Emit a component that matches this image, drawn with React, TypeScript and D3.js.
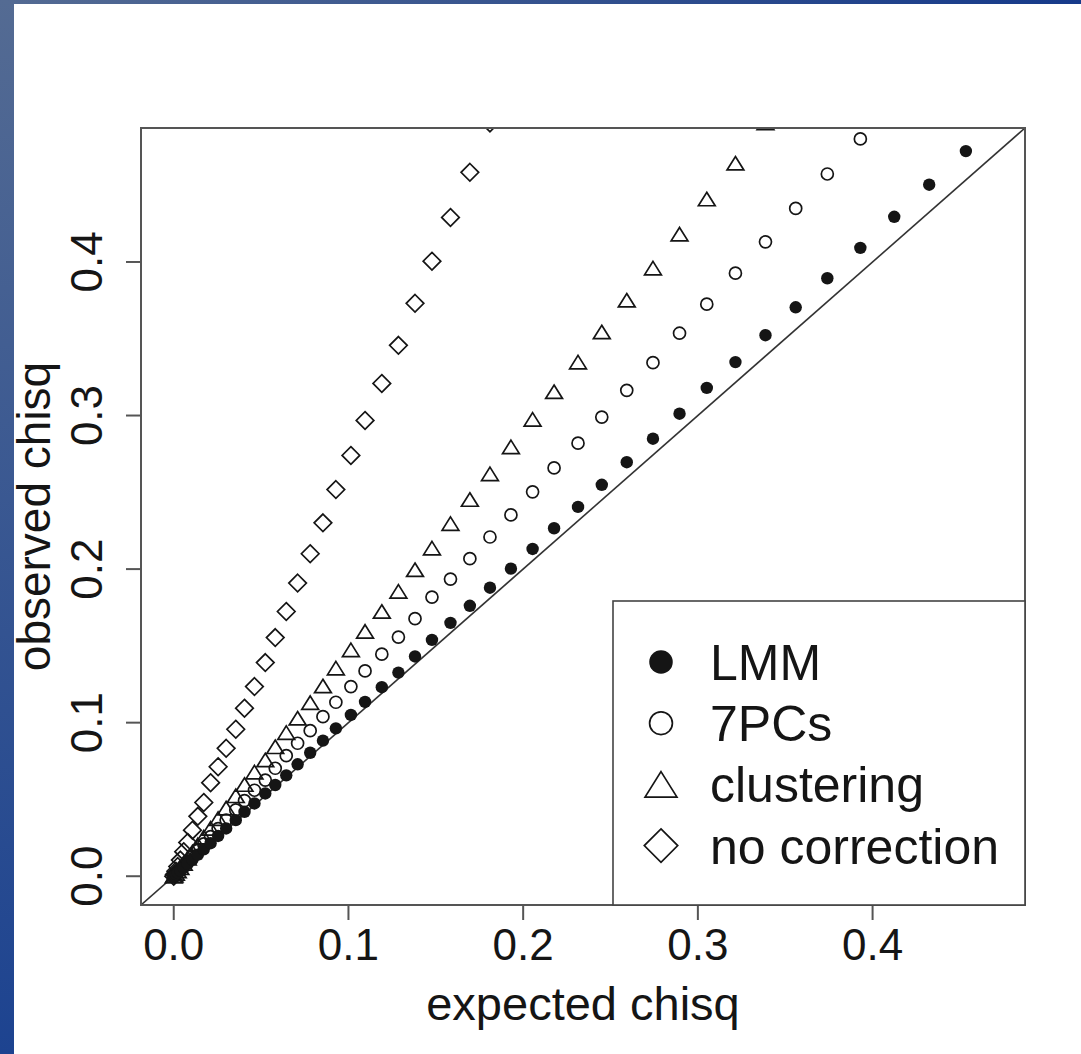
import React from "react";
import * as d3 from "d3";

// expected chisq quantiles (shared by all four series)
const expected = [
  0.0, 0.0004, 0.0012, 0.0023, 0.0038, 0.0057, 0.008, 0.0107, 0.0138, 0.0172,
  0.0211, 0.0254, 0.03, 0.0355, 0.0405, 0.0462, 0.0524, 0.0581, 0.0644, 0.0709,
  0.0781, 0.0854, 0.0928, 0.1014, 0.1095, 0.1191, 0.1286, 0.1381, 0.1478, 0.1584,
  0.1695, 0.181, 0.193, 0.2054, 0.2177, 0.2314, 0.245, 0.2593, 0.2743, 0.2895,
  0.3051, 0.3215, 0.3387, 0.356, 0.3741, 0.393, 0.4124, 0.4324, 0.4534,
];

const lmm = [
  0.0, 0.0006, 0.0013, 0.0023, 0.0036, 0.0055, 0.008, 0.0108, 0.014, 0.0175,
  0.0215, 0.0262, 0.0311, 0.0365, 0.0419, 0.0474, 0.0539, 0.0594, 0.0657, 0.0729,
  0.0804, 0.0883, 0.0963, 0.105, 0.1135, 0.1231, 0.1326, 0.1431, 0.1539, 0.165,
  0.1761, 0.1879, 0.2003, 0.2131, 0.2266, 0.2405, 0.2549, 0.2696, 0.2849, 0.3012,
  0.318, 0.3348, 0.3523, 0.3705, 0.3894, 0.4092, 0.4294, 0.4503, 0.4722,
];

const pcs7 = [
  0.0, 0.0005, 0.0015, 0.0028, 0.0046, 0.007, 0.0098, 0.0131, 0.0168, 0.021,
  0.0258, 0.031, 0.0366, 0.0432, 0.0492, 0.056, 0.0626, 0.0703, 0.0785, 0.0866,
  0.0948, 0.1039, 0.1133, 0.1235, 0.1337, 0.1446, 0.1557, 0.1677, 0.1818, 0.1935,
  0.2068, 0.2209, 0.2353, 0.2503, 0.2659, 0.282, 0.299, 0.3164, 0.3344, 0.3536,
  0.3725, 0.3927, 0.4131, 0.4349, 0.4573, 0.4801,
];

const clustering = [
  0.0, 0.0006, 0.0018, 0.0034, 0.0056, 0.0084, 0.0118, 0.0158, 0.0204, 0.0255,
  0.0312, 0.0375, 0.0443, 0.0524, 0.0597, 0.0678, 0.0757, 0.0843, 0.0935, 0.1029,
  0.113, 0.1239, 0.1355, 0.1474, 0.1594, 0.1724, 0.1855, 0.1996, 0.2137, 0.2296,
  0.2453, 0.262, 0.2796, 0.2975, 0.3155, 0.3348, 0.3544, 0.3751, 0.396, 0.4181,
  0.441, 0.4643, 0.4905,
];

const noCorrection = [
  0.0, 0.0011, 0.0033, 0.0063, 0.0105, 0.016, 0.022, 0.03, 0.039, 0.048,
  0.0609, 0.0713, 0.0833, 0.0957, 0.1094, 0.1235, 0.1391, 0.1554, 0.1724, 0.1909,
  0.21, 0.2301, 0.2518, 0.274, 0.2968, 0.3209, 0.3457, 0.3731, 0.4005, 0.429,
  0.4584, 0.4905,
];

const xTicks = [0, 0.1, 0.2, 0.3, 0.4];
const yTicks = [0, 0.1, 0.2, 0.3, 0.4];
const legendLabels = ["LMM", "7PCs", "clustering", "no correction"];

const W = 1081;
const H = 1054;
const plot = { left: 141, top: 128, right: 1025, bottom: 905 };
const lim = 0.4685;
const dom: [number, number] = [-0.04 * lim, 1.04 * lim];
const font = "'Liberation Sans', Arial, Helvetica, sans-serif";
const ink = "#151515";

const symbolPath = (kind: string, s: number) => {
  if (kind === "tri") {
    const h = s * 0.8;
    return `M0,${-h}L${s},${h}L${-s},${h}Z`;
  }
  if (kind === "dia") return `M0,${-s}L${s},0L0,${s}L${-s},0Z`;
  return "";
};

const Marker = ({ kind, cx, cy, big }: { kind: string; cx: number; cy: number; big?: boolean }) => {
  const k = big ? 1.9 : 1;
  if (kind === "dot") return <circle cx={cx} cy={cy} r={6.2 * k} fill={ink} />;
  if (kind === "circ")
    return <circle cx={cx} cy={cy} r={6 * k} fill="none" stroke={ink} strokeWidth={1.7} />;
  const s = kind === "tri" ? 8.4 * k : 8.8 * k;
  return (
    <path
      d={symbolPath(kind, s)}
      transform={`translate(${cx},${cy})`}
      fill="none"
      stroke={ink}
      strokeWidth={1.7}
      strokeLinejoin="miter"
    />
  );
};

export default function App() {
  const x = d3.scaleLinear().domain(dom).range([plot.left, plot.right]);
  const y = d3.scaleLinear().domain(dom).range([plot.bottom, plot.top]);

  const series = [
    { kind: "dia", values: noCorrection },
    { kind: "tri", values: clustering },
    { kind: "circ", values: pcs7 },
    { kind: "dot", values: lmm },
  ];
  const legendKinds = ["dot", "circ", "tri", "dia"];

  const legend = { left: 613, top: 601, rowStart: 662, rowStep: 61.2, symX: 661, textX: 710 };

  return (
    <svg width={W} height={H} style={{ position: "absolute", left: 0, top: 0, background: "#fff" }}>
      <defs>
        <linearGradient id="sideBar" x1="0" y1="0" x2="0" y2="1">
          <stop offset="0" stopColor="#546b93" />
          <stop offset="1" stopColor="#1d4390" />
        </linearGradient>
        <linearGradient id="topBar" x1="0" y1="0" x2="1" y2="0">
          <stop offset="0" stopColor="#546b93" />
          <stop offset="1" stopColor="#163a8a" />
        </linearGradient>
        <clipPath id="plotClip">
          <rect x={plot.left} y={plot.top} width={plot.right - plot.left} height={plot.bottom - plot.top} />
        </clipPath>
      </defs>
      <rect x={0} y={0} width={W} height={H} fill="#fff" />
      <rect x={0} y={0} width={W} height={4} fill="url(#topBar)" />
      <rect x={0} y={0} width={14} height={H} fill="url(#sideBar)" />

      {/* y = x reference line */}
      <g clipPath="url(#plotClip)">
        <line
          x1={x(dom[0])}
          y1={y(dom[0])}
          x2={x(dom[1])}
          y2={y(dom[1])}
          stroke="#333"
          strokeWidth={1.6}
        />
        {series.map((s) =>
          s.values.map((v, i) => (
            <Marker key={s.kind + i} kind={s.kind} cx={x(expected[i])} cy={y(v)} />
          ))
        )}
      </g>

      {/* frame */}
      <rect
        x={plot.left}
        y={plot.top}
        width={plot.right - plot.left}
        height={plot.bottom - plot.top}
        fill="none"
        stroke="#555"
        strokeWidth={2}
      />

      {/* x axis */}
      <g fontFamily={font} fontSize={44} fill={ink}>
        {xTicks.map((t) => (
          <g key={t}>
            <line x1={x(t)} x2={x(t)} y1={plot.bottom} y2={plot.bottom + 15} stroke="#555" strokeWidth={2} />
            <text x={x(t)} y={960} textAnchor="middle">
              {d3.format(".1f")(t)}
            </text>
          </g>
        ))}
        <text x={(plot.left + plot.right) / 2} y={1020} textAnchor="middle" fontSize={47}>
          expected chisq
        </text>
      </g>

      {/* y axis */}
      <g fontFamily={font} fontSize={44} fill={ink}>
        {yTicks.map((t) => (
          <g key={t}>
            <line x1={plot.left - 15} x2={plot.left} y1={y(t)} y2={y(t)} stroke="#555" strokeWidth={2} />
            <text transform={`translate(102,${y(t)}) rotate(-90)`} textAnchor="middle">
              {d3.format(".1f")(t)}
            </text>
          </g>
        ))}
        <text
          transform={`translate(50,${(plot.top + plot.bottom) / 2}) rotate(-90)`}
          textAnchor="middle"
          fontSize={46}
        >
          observed chisq
        </text>
      </g>

      {/* legend */}
      <rect
        x={legend.left}
        y={legend.top}
        width={plot.right - legend.left}
        height={plot.bottom - legend.top}
        fill="#fff"
        stroke="#444"
        strokeWidth={1.6}
      />
      {legendLabels.map((lab, i) => {
        const cy = legend.rowStart + i * legend.rowStep;
        return (
          <g key={lab}>
            <Marker kind={legendKinds[i]} cx={legend.symX} cy={cy} big />
            <text x={legend.textX} y={cy + 18} fontFamily={font} fontSize={50} fill={ink}>
              {lab}
            </text>
          </g>
        );
      })}
    </svg>
  );
}
